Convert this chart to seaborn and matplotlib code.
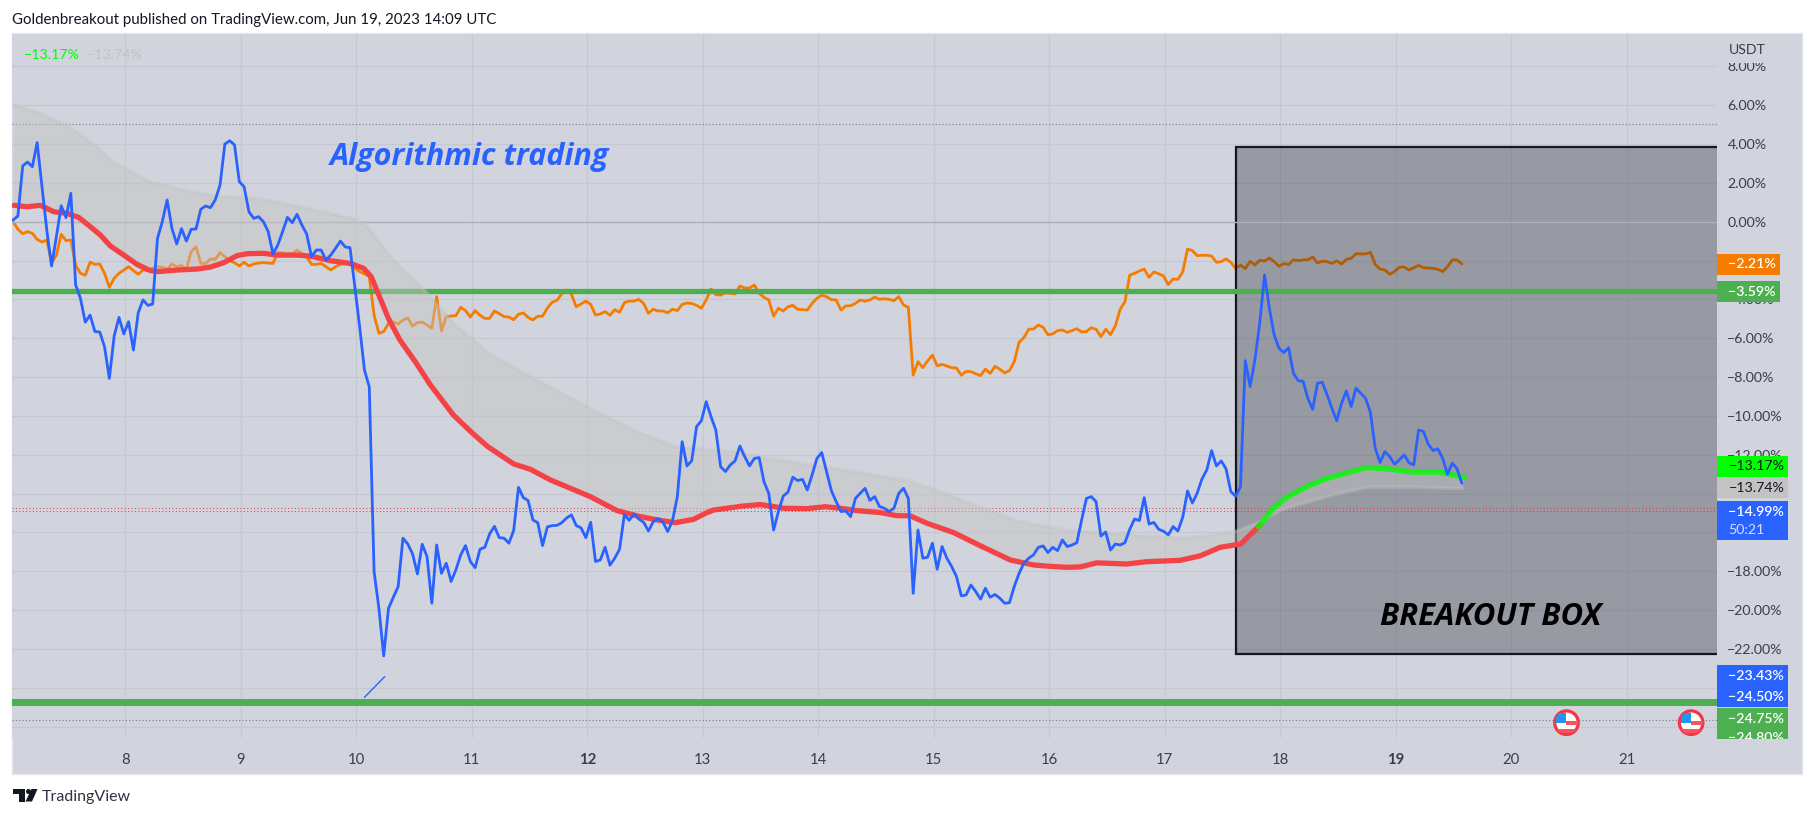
import numpy as np
import matplotlib
matplotlib.use("Agg")
import matplotlib.pyplot as plt
from matplotlib.patches import Rectangle, Circle, Polygon
from matplotlib.transforms import Affine2D
import seaborn as sns

# --- Data ---
START_DAY = 7.03   # first hourly close

# token vs USDT, hourly, in percent
blue_values = [
    0.09, 0.29, 2.87, 3.07, 2.83, 4.07, 1.80, -0.43, -2.28, -0.77, 0.82, 0.21, 1.46, -3.26, -3.95,
    -5.18, -4.81, -5.66, -5.68, -6.44, -8.07, -5.89, -4.93, -5.78, -5.15, -6.61, -4.69, -4.03, -4.31, -4.24,
    -0.86, 0.00, 1.12, -0.34, -1.15, -0.36, -1.00, -0.39, -0.38, 0.64, 0.81, 0.72, 1.12, 1.89, 4.00,
    4.17, 3.96, 2.06, 1.80, 0.51, 0.17, 0.26, 0.00, -0.51, -1.66, -1.20, -0.51, 0.22, -0.05, 0.38,
    -0.17, -0.64, -1.80, -1.46, -1.46, -1.97, -1.72, -1.37, -1.00, -1.30, -1.34, -3.35, -5.41, -7.64, -8.50,
    -18.02, -19.91, -22.36, -19.91, -19.34, -18.79, -16.30, -16.60, -17.11, -18.14, -16.61, -17.25, -19.65, -16.65, -18.11,
    -17.59, -18.53, -17.93, -17.16, -16.68, -17.50, -17.82, -16.87, -16.77, -16.08, -15.69, -16.27, -16.30, -16.56, -15.91,
    -13.68, -14.21, -14.36, -15.36, -15.50, -16.68, -15.72, -15.65, -15.64, -15.50, -15.26, -15.10, -15.65, -15.77, -16.27,
    -15.48, -17.50, -17.42, -16.77, -17.69, -17.33, -16.87, -15.08, -15.38, -15.05, -15.31, -15.48, -15.93, -15.45, -15.29,
    -15.46, -15.96, -15.40, -14.16, -11.33, -12.58, -12.31, -10.55, -10.25, -9.27, -10.04, -10.73, -12.62,
    -12.87, -12.53, -12.32, -11.55, -12.10, -12.58, -12.19, -12.15, -13.39, -13.99, -15.88, -14.93, -14.13, -13.92, -13.16,
    -13.33, -13.27, -13.82, -13.05, -12.19, -11.89, -12.87, -13.85, -14.42, -14.93, -14.90, -15.19, -14.25, -13.99, -13.73,
    -14.35, -14.16, -14.67, -14.76, -14.93, -14.76, -13.99, -13.73, -14.25, -19.14, -15.88, -17.33, -17.28, -16.56, -17.90,
    -16.73, -17.33, -17.76, -18.28, -19.27, -19.22, -18.71, -19.05, -19.44, -18.88, -19.34, -19.20, -19.39, -19.65, -19.62,
    -18.79, -18.11, -17.59, -17.33, -17.16, -16.77, -16.70, -17.04, -16.77, -16.94, -16.39, -16.73,
    -16.65, -16.53, -15.36, -14.25, -14.16, -14.42, -16.19, -15.98, -16.91, -16.60, -16.65, -16.53, -15.84, -15.31, -15.39,
    -14.21, -15.57, -15.49, -15.84, -15.94, -16.13, -15.70, -15.93, -15.22, -13.87, -14.49, -13.98, -13.25, -12.79, -11.79,
    -12.58, -12.32, -12.73, -13.90, -14.14, -13.64,
    -7.16, -8.49, -7.12, -5.23, -2.74, -4.46, -5.83, -6.52, -6.74, -6.49, -7.81, -8.19, -8.22, -9.10, -9.66,
    -8.32, -8.27, -8.92, -9.61, -10.26, -9.35, -8.72, -9.52, -8.57, -8.84, -9.10, -9.83, -11.67, -12.41, -11.84,
    -12.10, -12.49, -12.27, -12.01, -12.41, -12.53, -10.73, -10.80, -11.45, -11.79, -11.70, -12.18, -13.01, -12.43, -12.73,
    -13.47,
]

# comparison symbol, same hourly bars
orange_values = [
    0.00, -0.39, -0.62, -0.51, -0.60, -0.91, -1.05, -0.94, -2.11, -1.72, -0.65, -0.98, -0.94, -2.23, -2.66,
    -2.76, -2.09, -2.20, -2.18, -2.66, -3.38, -2.92, -2.66, -2.49, -2.32, -2.52, -2.71, -2.49, -2.49, -2.39,
    -2.32, -2.35, -2.45, -2.18, -2.32, -2.25, -2.45, -1.54, -1.29, -2.15, -2.15, -1.92, -1.94, -1.60, -1.80,
    -2.01, -2.11, -2.28, -2.09, -2.28, -2.18, -2.13, -2.11, -2.13, -2.15, -1.58, -1.60, -1.66, -1.66, -1.46,
    -1.63, -1.80, -2.20, -2.20, -2.15, -2.32, -2.49, -2.32, -2.20, -2.15, -2.18, -2.40, -2.57, -2.69,
    -2.83, -4.81, -5.75, -5.66, -5.24, -5.17, -5.27, -5.06, -4.96, -5.37, -5.20, -5.17, -5.32, -5.49, -3.86,
    -5.63, -4.89, -4.86, -4.84, -4.41, -4.58, -4.91, -4.58, -4.82, -4.98, -4.98, -4.60, -4.74, -4.89, -4.91,
    -5.05, -4.77, -4.70, -4.93, -5.06, -4.87, -4.87, -4.45, -4.15, -4.05, -3.72, -3.52, -3.74, -4.38, -4.24,
    -4.09, -4.26, -4.81, -4.75, -4.63, -4.82, -4.53, -4.67, -4.17, -4.09, -4.09, -4.00, -4.21, -4.72, -4.51,
    -4.60, -4.60, -4.69, -4.51, -4.58, -4.26, -4.19, -4.21, -4.31, -4.46, -4.03, -3.47, -3.76, -3.78, -3.66,
    -3.69, -3.72, -3.31, -3.42, -3.42, -3.26, -3.69, -3.90, -4.03, -4.86, -4.46, -4.60, -4.38, -4.31, -4.51,
    -4.53, -4.55, -4.21, -3.95, -3.79, -3.86, -4.02, -4.03, -4.55, -4.34, -4.33, -4.21, -4.03, -4.10, -4.03,
    -3.88,
    -4.00, -3.97, -4.00, -4.07, -3.86, -4.29, -4.41, -7.90, -7.21, -7.52, -7.17, -6.87, -7.42, -7.35, -7.43,
    -7.52, -7.54, -7.91, -7.71, -7.72, -7.83, -7.93, -7.59, -7.81, -7.45, -7.60, -7.79, -7.67, -7.21, -6.21,
    -5.97, -5.54, -5.53, -5.32, -5.44, -5.82, -5.78, -5.61, -5.58, -5.70, -5.61, -5.51, -5.68, -5.66, -5.46,
    -5.54, -5.92, -5.54, -5.82, -5.37, -4.51, -4.12, -2.75, -2.66, -2.54, -2.44, -2.87, -2.59, -2.68, -2.80,
    -3.24, -2.95, -2.97, -2.59, -1.41, -1.49, -1.75, -1.73, -1.73, -1.77, -2.09, -2.06, -1.92, -2.09, -2.42,
    -2.23, -2.42, -2.04, -2.23, -1.99, -2.03, -1.87, -2.06, -2.30, -2.16, -2.21, -1.96, -2.01, -1.97, -1.96,
    -1.82, -2.13, -2.03, -2.06, -2.15, -2.01, -2.18, -1.94, -1.89, -1.65, -1.66, -1.66, -1.58, -2.20, -2.44,
    -2.49, -2.71, -2.57, -2.35, -2.33, -2.49, -2.37, -2.25, -2.37, -2.39, -2.40, -2.45, -2.57, -2.32, -1.97,
    -1.97, -2.18,
]

# fast moving average: red while below the slow one, lime after the cross
red_days = [
    7.036, 7.151, 7.267, 7.382, 7.497, 7.598, 7.699, 7.786, 7.872, 7.988, 8.103, 8.219, 8.291, 8.449, 8.622,
    8.738, 8.853, 8.969, 9.055, 9.199, 9.315, 9.488, 9.603, 9.776, 9.949, 10.064, 10.130, 10.196, 10.279, 10.378,
    10.511, 10.643, 10.842, 11.008, 11.140, 11.364, 11.508, 11.681, 11.854, 12.027, 12.258, 12.431, 12.604, 12.763, 12.921,
    13.037, 13.094, 13.210, 13.354, 13.498, 13.614, 13.700, 13.902, 14.061, 14.191, 14.335, 14.537, 14.681, 14.796, 14.941,
    15.171, 15.431, 15.662, 15.864, 16.008, 16.152, 16.267, 16.412, 16.671, 16.844, 17.133, 17.306, 17.479, 17.658, 17.825,
]
red_values = [
    0.84, 0.77, 0.84, 0.51, 0.43, 0.22, -0.26, -0.69, -1.25, -1.72, -2.20, -2.52, -2.57, -2.49, -2.44,
    -2.34, -2.11, -1.75, -1.65, -1.63, -1.72, -1.72, -1.77, -2.01, -2.15, -2.40, -2.83, -3.78, -4.98, -6.09,
    -7.21, -8.41, -9.96, -10.90, -11.59, -12.48, -12.75, -13.30, -13.73, -14.16, -14.88, -15.15, -15.36, -15.50, -15.33,
    -14.98, -14.85, -14.76, -14.64, -14.57, -14.67, -14.76, -14.78, -14.68, -14.76, -14.88, -14.98, -15.14, -15.15, -15.53,
    -16.01, -16.77, -17.42, -17.68, -17.75, -17.80, -17.78, -17.57, -17.63, -17.51, -17.44, -17.21, -16.77, -16.60, -15.62,
]
lime_days = [17.811, 17.940, 18.056, 18.200, 18.388, 18.546, 18.748, 18.950, 19.152, 19.383, 19.591]
lime_values = [-15.71, -14.76, -14.19, -13.73, -13.25, -12.99, -12.66, -12.75, -12.90, -12.90, -13.17]

# slow moving average, edge of the grey band
slow_days = [
    7.040, 7.252, 7.517, 7.715, 7.914, 8.213, 8.511, 8.809, 9.074, 9.306, 9.571, 9.968, 10.100, 10.299, 10.378,
    10.577, 10.842, 11.173, 11.504, 11.836, 12.167, 12.432, 12.763, 13.267, 13.556, 14.133, 14.768, 15.056, 15.402, 15.748,
    16.152, 16.585, 17.162, 17.594, 17.796, 17.998, 18.200, 18.460, 18.748, 19.152, 19.579,
]
slow_values = [
    6.01, 5.61, 4.89, 4.03, 3.00, 2.06, 1.63, 1.29, 1.25, 1.03, 0.69, 0.17, -0.26, -1.80, -2.32,
    -3.43, -5.24, -6.87, -7.98, -9.01, -10.04, -10.81, -11.59, -11.84, -12.19, -12.70, -13.33, -13.90, -14.71, -15.45,
    -15.88, -16.08, -16.31, -15.98, -15.53, -14.88, -14.50, -14.07, -13.68, -13.68, -13.74,
]

day_ticks = list(range(8, 22))
bold_days = [12, 19]
pct_ticks = list(range(8, -27, -2))
hidden_pct = [-2, -14, -16, -24, -26]

support_levels = [-3.59, -24.75]
dotted_grey = [5.05, -25.68]
dotted_red = -14.76
dotted_blue = -14.91
trend_days = [10.071, 10.247]
trend_values = [-24.50, -23.43]
box_left, box_top, box_bottom = 17.617, 3.85, -22.26
event_days = [20.477, 21.556]

# --- Style ---
W, H = 1815, 818
BG = "#d1d4dc"
BLUE = "#2962ff"
ORANGE = "#f57c00"
GREEN = "#4caf50"
LIME = "#00ff00"
GREY = "#c3c3c3"
RED = "#f44346"
INK = "#131722"
LABEL = "#3b3e49"
LABEL_SIZE = 10.2

sns.set_theme(style="white")
plt.rcParams["font.family"] = ["Lato", "DejaVu Sans"]
BIG_FONT = ["Open Sans", "DejaVu Sans"]

fig = plt.figure(figsize=(W / 100, H / 100), dpi=100, facecolor="white")
px = Affine2D().scale(1 / W, -1 / H).translate(0, 1) + fig.transFigure

fig.add_artist(Rectangle((12, 33), 1790, 741, transform=px, facecolor=BG, edgecolor="#e4e6ec", linewidth=1, zorder=-1))

ax = fig.add_axes([12.5 / W, 1 - 738 / H, (1717 - 12.5) / W, (738 - 34) / H])
ax.set_facecolor(BG)
for s in ax.spines.values():
    s.set_visible(False)

# --- Series ---
blue_days = START_DAY + np.arange(len(blue_values)) / 24
orange_days = START_DAY + np.arange(len(orange_values)) / 24

line_kw = dict(ax=ax, estimator=None, errorbar=None, legend=False)
sns.lineplot(x=orange_days, y=orange_values, color=ORANGE, linewidth=2.0, zorder=2, **line_kw)

ax.add_patch(Rectangle((box_left, box_bottom), 30, box_top - box_bottom, facecolor=(19 / 255, 23 / 255, 34 / 255, 0.3),
                       edgecolor=INK, linewidth=1.6, zorder=2.5))

ax.axhline(0, color="#aeb1bb", linewidth=1, zorder=2.7)
for lvl, lw in zip(support_levels, [3.8, 5.0]):
    ax.axhline(lvl, color=GREEN, linewidth=lw, zorder=3)
for lvl in dotted_grey:
    ax.axhline(lvl, color="#787b86", linewidth=0.8, linestyle=(0, (1, 2)), zorder=2.7)
ax.axhline(dotted_red, color="#f23645", linewidth=0.7, linestyle=(0, (1, 2.5)), zorder=2.7)
ax.axhline(dotted_blue, color=BLUE, linewidth=0.7, linestyle=(0, (1, 2.5)), zorder=2.7)

# band between the averages
band_x = list(red_days[:-1]) + list(lime_days) + list(slow_days[::-1])
band_y = list(red_values[:-1]) + list(lime_values) + list(slow_values[::-1])
ax.fill(band_x, band_y, color=GREY, alpha=0.45, linewidth=0, zorder=3.1)
sns.lineplot(x=slow_days, y=slow_values, color=GREY, alpha=0.35, linewidth=2.6, zorder=3.2, **line_kw)

sns.lineplot(x=red_days, y=red_values, color=RED, linewidth=3.8, zorder=3.5, **line_kw)
sns.lineplot(x=lime_days, y=lime_values, color=LIME, alpha=0.8, linewidth=3.8, zorder=3.6, **line_kw)
sns.lineplot(x=blue_days, y=blue_values, color=BLUE, linewidth=2.0, zorder=4, **line_kw)
sns.lineplot(x=trend_days, y=trend_values, color=BLUE, linewidth=1.0, zorder=4, **line_kw)

# --- Axes ---
ax.set_xlim(7.025, 21.78)
ax.set_ylim(-26.59, 9.665)
ax.yaxis.tick_right()
ax.set_xticks(day_ticks)
ax.set_xticklabels([str(d) for d in day_ticks])
for lab, d in zip(ax.get_xticklabels(), day_ticks):
    lab.set_fontweight("bold" if d in bold_days else "normal")
ax.set_yticks(pct_ticks)
ax.set_yticklabels(["" if p in hidden_pct else f"{p:.2f}%".replace("-", "\u2212") for p in pct_ticks], ha="left")
ax.tick_params(axis="x", length=0, pad=10.5, labelsize=LABEL_SIZE + 0.5, labelcolor=LABEL)
ax.tick_params(axis="y", length=0, pad=7.5, labelsize=LABEL_SIZE, labelcolor=LABEL)
ax.grid(True, color="#c5c8d1", linewidth=0.9, zorder=1)
ax.set_axisbelow(True)

# --- Price tags on the scale ---
def tag(y0, y1, x1, color):
    ax.add_patch(Rectangle((1717, y0), x1 - 1717, y1 - y0, transform=px, facecolor=color, edgecolor="none",
                           clip_on=False, zorder=6))

def tag_text(y, s, color="white", weight="normal"):
    return ax.text(1728.5, y, s, transform=px, color=color, fontsize=LABEL_SIZE, fontweight=weight, ha="left", va="center",
                   clip_on=False, zorder=7)

# covers the top half of the 8.00% tick, under the currency name
ax.add_patch(Rectangle((1718, 34), 80, 29, transform=px, facecolor=BG, edgecolor="none", clip_on=False, zorder=6))
ax.text(1728.5, 50.5, "USDT", transform=px, color=LABEL, fontsize=LABEL_SIZE, va="center", clip_on=False, zorder=7)

tag(254, 275, 1780, ORANGE)
tag_text(264.5, "\u22122.21%", weight="semibold")
tag(281, 301.5, 1780, GREEN)
tag_text(291.5, "\u22123.59%", weight="semibold")
tag(456, 476.5, 1788, LIME)
tag_text(466.5, "\u221213.17%", color=INK)
tag(477, 497.5, 1788, GREY)
tag_text(487.5, "\u221213.74%", color=INK)
tag(501, 540, 1788, BLUE)
tag_text(512, "\u221214.99%", weight="semibold")
tag_text(530, "50:21", color="#d3deff")
tag(665, 706.5, 1788, BLUE)
tag_text(676, "\u221223.43%", weight="semibold")
tag_text(697, "\u221224.50%", weight="semibold")
tag(708, 738.5, 1788, GREEN)
tag_text(719, "\u221224.75%", weight="semibold")
t = tag_text(737.5, "\u221224.80%", weight="semibold")
clip_rect = Rectangle((1717, 708), 71, 30.5, transform=px)
t.set_clip_path(clip_rect)
t.set_clip_on(True)

# --- Annotations ---
fig.text(12.5 / W, 1 - 20 / H, "Goldenbreakout published on TradingView.com, Jun 19, 2023 14:09 UTC",
         color=INK, fontsize=10.8, va="center")
ax.text(23.5, 55, "\u221213.17%", transform=px, color=LIME, fontsize=LABEL_SIZE, va="center", zorder=7)
ax.text(87, 55, "\u221213.74%", transform=px, color=GREY, fontsize=LABEL_SIZE, va="center", zorder=7)
ax.text(330, 157, "Algorithmic trading", transform=px, color=BLUE, fontsize=22, fontweight="bold",
        fontstyle="italic", family=BIG_FONT, va="center", zorder=7)
ax.text(1380, 617, "BREAKOUT BOX", transform=px, color="black", fontsize=22.3, fontweight="bold",
        fontstyle="italic", family=BIG_FONT, va="center", zorder=7)

# event flags on the time line
for d in event_days:
    cx = ax.transData.transform((d, 0))[0]
    disc = Circle((cx, 722.7), 11.8, transform=px, facecolor="white", edgecolor="#f23645", linewidth=2.3, clip_on=False,
                  zorder=6)
    ax.add_patch(disc)
    for x0, y0, w, h in [(cx, 721, 12, 3.5), (cx - 12, 729, 24, 3.5)]:
        st = Rectangle((x0, y0), w, h, transform=px, facecolor="#f7525f", edgecolor="none", zorder=6.1)
        ax.add_patch(st)
        st.set_clip_path(disc)
    can = Rectangle((cx - 10, 712.7), 10, 10.5, transform=px, facecolor="#2196f3", edgecolor="none", zorder=6.2)
    ax.add_patch(can)
    can.set_clip_path(disc)

# TradingView mark, bottom left
logo = [
    [(13, 789), (25.5, 789), (25.5, 801.5), (19.5, 801.5), (19.5, 794), (13, 794)],
    [(31.5, 789), (37.5, 789), (32, 801.5), (25.5, 801.5)],
]
for pts in logo:
    fig.add_artist(Polygon(pts, closed=True, transform=px, facecolor=INK, edgecolor="none"))
fig.add_artist(Circle((28.5, 791.5), 2.5, transform=px, facecolor=INK, edgecolor="none"))
fig.text(42 / W, 1 - 797 / H, "TradingView", color="#2e3240", fontsize=11.5, va="center")

fig.savefig("out.png", dpi=100)
